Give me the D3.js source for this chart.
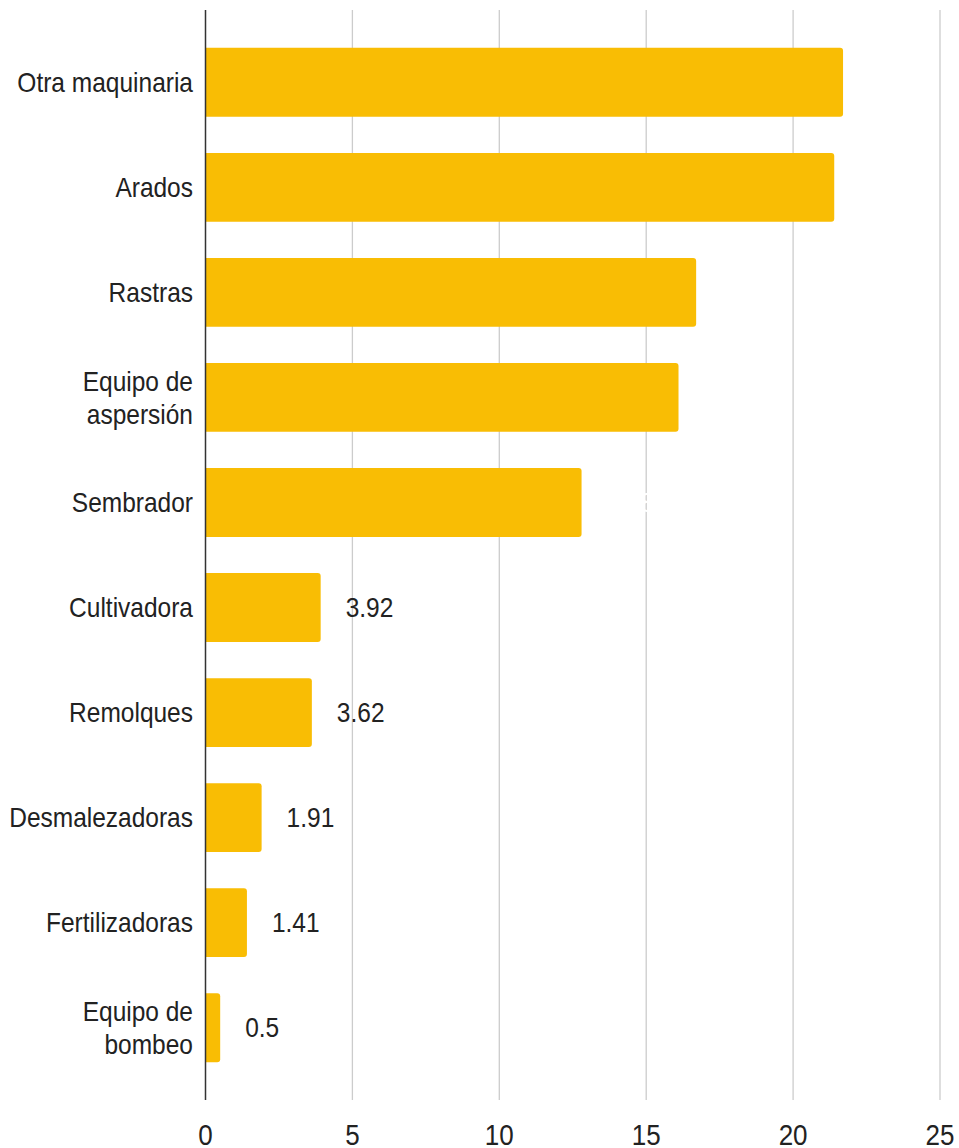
<!DOCTYPE html>
<html>
<head>
<meta charset="utf-8">
<script src="https://cdn.jsdelivr.net/npm/d3@7"></script>
<style>
html,body{margin:0;padding:0;background:#fff;}
svg{display:block;}
text{font-family:"Liberation Sans", Arial, sans-serif;}
</style>
</head>
<body>
<svg id="chart" width="959" height="1148"></svg>
<script>
const categories = ["Otra maquinaria","Arados","Rastras","Equipo de aspersión","Sembrador","Cultivadora","Remolques","Desmalezadoras","Fertilizadoras","Equipo de bombeo"];
const labelLines = [["Otra maquinaria"],["Arados"],["Rastras"],["Equipo de","aspersión"],["Sembrador"],["Cultivadora"],["Remolques"],["Desmalezadoras"],["Fertilizadoras"],["Equipo de","bombeo"]];
const values = [21.7, 21.4, 16.7, 16.1, 12.8, 3.92, 3.62, 1.91, 1.41, 0.5];
const xTicks = [0, 5, 10, 15, 20, 25];

const svg = d3.select("#chart");
const plotLeft = 205.5, plotRight = 940, plotTop = 10, plotBottom = 1100;
const stretch = 1.1;

const x = d3.scaleLinear().domain([0, 25]).range([plotLeft, plotRight]);
const y = d3.scaleBand().domain(categories).range([plotTop, plotBottom]).paddingInner(0.345).paddingOuter(0.36);

// gridlines
svg.append("g").selectAll("line").data(xTicks.filter(d => d > 0)).join("line")
  .attr("x1", d => x(d)).attr("x2", d => x(d))
  .attr("y1", plotTop).attr("y2", plotBottom)
  .attr("stroke", "#cccccc").attr("stroke-width", 1.3);

// bars
svg.append("g").selectAll("path").data(categories).join("path")
  .attr("fill", "#f9bd04")
  .attr("d", (c, i) => {
    const x0 = x(0) + 0.5, x1 = x(values[i]), y0 = y(c), h = y.bandwidth(), r = Math.min(3, (x1 - x0) / 2);
    return `M${x0},${y0}H${x1 - r}Q${x1},${y0} ${x1},${y0 + r}V${y0 + h - r}Q${x1},${y0 + h} ${x1 - r},${y0 + h}H${x0}Z`;
  });

function stretchedText(g, tx, ty, str, opts) {
  const t = g.append("text")
    .attr("transform", `translate(${tx},${ty}) scale(1,${stretch})`)
    .attr("font-size", opts.size)
    .attr("fill", opts.fill || "#222222")
    .attr("text-anchor", opts.anchor || "start")
    .attr("dy", opts.dy || null)
    .text(str);
  return t;
}

// value labels (large ones in white, as in the original)
const valG = svg.append("g");
categories.forEach((c, i) => {
  stretchedText(valG, x(values[i]) + 25, y(c) + y.bandwidth() / 2, String(values[i]),
    {size: 24.5, fill: values[i] > 10 ? "#ffffff" : "#222222", dy: "0.36em"});
});

// axis line
svg.append("line")
  .attr("x1", x(0)).attr("x2", x(0)).attr("y1", plotTop).attr("y2", plotBottom)
  .attr("stroke", "#333333").attr("stroke-width", 1.5);

// category labels
const catG = svg.append("g");
categories.forEach((c, i) => {
  const lines = labelLines[i];
  const cy = y(c) + y.bandwidth() / 2;
  const lh = 33;
  lines.forEach((ln, j) => {
    stretchedText(catG, 193, cy + (j - (lines.length - 1) / 2) * lh, ln,
      {size: 24.5, anchor: "end", dy: "0.36em"});
  });
});

// x tick labels
const tickG = svg.append("g");
xTicks.forEach(d => {
  stretchedText(tickG, x(d), 1145, String(d), {size: 26, anchor: "middle"});
});
</script>
</body>
</html>
